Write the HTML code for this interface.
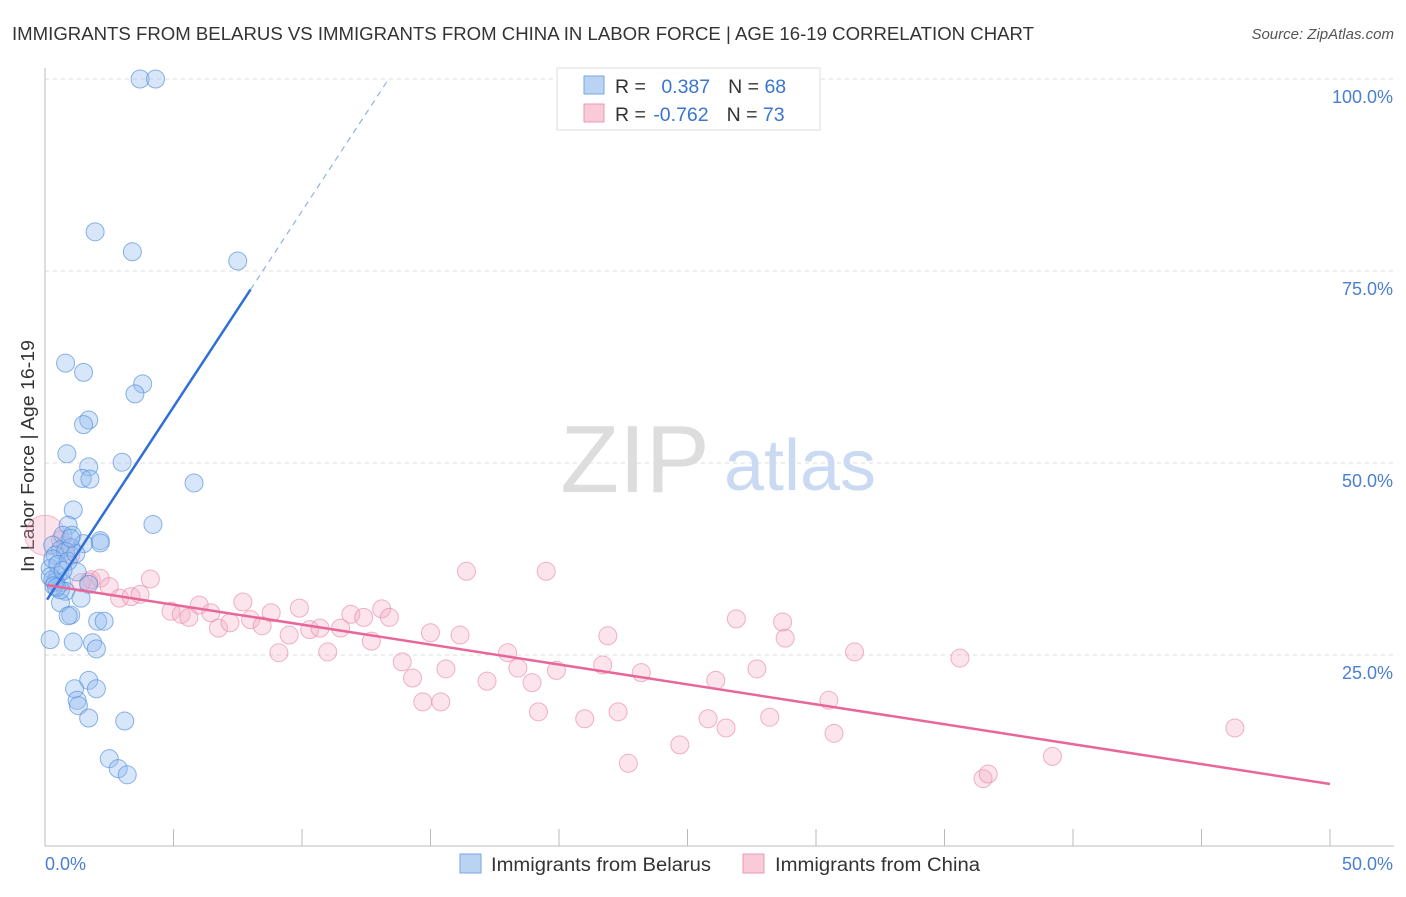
<!DOCTYPE html>
<html><head><meta charset="utf-8"><style>
body{margin:0;background:#fff;font-family:"Liberation Sans",sans-serif;}
svg text{font-family:"Liberation Sans",sans-serif;}
</style></head><body>
<svg width="1406" height="892">
<text x="12" y="40" font-size="18" fill="#333" textLength="1022" lengthAdjust="spacingAndGlyphs">IMMIGRANTS FROM BELARUS VS IMMIGRANTS FROM CHINA IN LABOR FORCE | AGE 16-19 CORRELATION CHART</text>
<text x="1394" y="39" font-size="15" fill="#555" text-anchor="end" font-style="italic">Source: ZipAtlas.com</text>
<g id="grid"></g>
<text x="635" y="492" font-size="96" fill="#ddd" font-family="Liberation Serif" text-anchor="middle">ZIP</text>
<text x="800" y="490" font-size="72" fill="#c9daf2" text-anchor="middle">atlas</text>
<line x1="45" y1="68" x2="45" y2="846" stroke="#bbb"/>
<line x1="45" y1="846" x2="1394" y2="846" stroke="#bbb"/>
<g id="xt"></g>
<g id="yl"></g>
<text x="45" y="870" font-size="18" fill="#4a7fd0">0.0%</text>
<text x="1393" y="870" font-size="18" fill="#4a7fd0" text-anchor="end">50.0%</text>
<text transform="translate(34,456) rotate(-90)" font-size="18" fill="#333" text-anchor="middle" textLength="232" lengthAdjust="spacingAndGlyphs">In Labor Force | Age 16-19</text>
<g id="pts"></g>
<g id="lines"></g>
<g>
<rect x="557" y="68" width="263" height="62" fill="#fff" stroke="#ddd"/>
<rect x="584" y="76" width="20" height="18" fill="#b9d3f3" stroke="#7aa6e0"/>
<text x="615" y="93" font-size="19.5" fill="#333">R = <tspan fill="#3a75d0" dx="10">0.387</tspan><tspan dx="18" fill="#333">N = </tspan><tspan fill="#3a75d0">68</tspan></text>
<rect x="584" y="104" width="20" height="18" fill="#f9cad8" stroke="#eb9ab3"/>
<text x="615" y="121" font-size="19.5" fill="#333">R = <tspan fill="#3a75d0" dx="2">-0.762</tspan><tspan dx="18" fill="#333">N = </tspan><tspan fill="#3a75d0">73</tspan></text>
</g>
<g>
<rect x="460" y="854" width="21" height="19" fill="#b9d3f3" stroke="#7aa6e0"/>
<text x="491" y="871" font-size="19" fill="#333" textLength="220" lengthAdjust="spacingAndGlyphs">Immigrants from Belarus</text>
<rect x="743" y="854" width="21" height="19" fill="#f9cad8" stroke="#eb9ab3"/>
<text x="775" y="871" font-size="19" fill="#333" textLength="205" lengthAdjust="spacingAndGlyphs">Immigrants from China</text>
</g>
</svg>
<script>
const yTicks=[25,50,75,100];
const yTickLabels=["25.0%","50.0%","75.0%","100.0%"];
const xTicks=[5,10,15,20,25,30,35,40,45,50];
const belX=[3.7,4.3,1.95,3.4,7.5,0.8,1.5,3.8,3.5,1.7,1.5,0.85,1.7,3.0,1.45,1.75,5.8,1.1,4.2,0.9,0.7,1.05,2.15,2.15,1.5,0.3,0.6,1.0,0.4,0.8,0.2,0.5,1.25,0.3,0.65,1.7,0.8,1.4,0.6,1.0,0.9,2.05,2.3,0.2,1.1,1.85,2.0,1.7,1.15,2.0,1.25,1.3,1.7,3.1,2.5,2.85,3.2,0.6,0.4,0.3,0.5,0.2,0.9,1.2,0.35,0.7,1.0,0.45];
const belY=[100,100,80.1,77.5,76.3,63,61.8,60.3,59,55.6,55,51.2,49.5,50.1,48,47.9,47.4,43.9,42,41.9,40.6,40.6,39.9,39.6,39.5,39.3,38.7,39,38,38.5,36.3,35.4,35.8,34.8,34.4,34.2,33.3,32.4,31.8,30.2,30.1,29.4,29.4,27,26.7,26.6,25.8,21.7,20.6,20.6,19.1,18.4,16.8,16.4,11.5,10.2,9.4,33.5,34.5,37.5,36.8,35.2,37.2,38.2,34.0,36.0,40.2,33.8];
const chX=[0.6,0.8,1.0,1.8,2.15,1.7,1.4,2.5,2.9,3.35,3.7,4.1,4.9,5.3,5.6,6.0,6.45,6.75,7.2,7.7,8.0,8.45,8.8,9.1,9.5,9.9,10.3,10.7,11.0,11.5,11.9,12.4,12.7,13.1,13.4,13.9,14.3,14.7,15.0,15.4,15.6,16.15,16.4,17.2,18.0,18.4,18.95,19.2,19.5,19.9,21.0,21.7,21.9,22.3,22.7,23.2,24.7,25.8,26.1,26.5,26.9,27.7,28.2,28.7,28.8,30.5,30.7,31.5,35.6,36.5,36.7,39.2,46.3];
const chY=[40,39.3,38,34.8,35,34.5,34.4,33.9,32.4,32.6,32.9,34.9,30.7,30.3,29.9,31.5,30.5,28.5,29.2,31.9,29.6,28.8,30.5,25.3,27.6,31.1,28.3,28.5,25.4,28.5,30.3,29.9,26.8,31,29.9,24.1,22,18.9,27.9,18.9,23.2,27.6,35.9,21.6,25.3,23.3,21.4,17.6,35.9,23,16.7,23.7,27.5,17.6,10.9,22.7,13.3,16.7,21.7,15.5,29.7,23.2,16.9,29.3,27.2,19.1,14.8,25.4,24.6,8.9,9.5,11.8,15.5];
const ns="http://www.w3.org/2000/svg";
const X=v=>45+v/50*1285, Y=v=>847-v/100*768;
function mk(t,a,p){const e=document.createElementNS(ns,t);for(const k in a)e.setAttribute(k,a[k]);p.appendChild(e);return e;}
const grid=document.getElementById('grid'),yl=document.getElementById('yl'),xt=document.getElementById('xt');
yTicks.forEach((t,i)=>{
 const l=mk('line',{x1:45,x2:1394,y1:Y(t),y2:Y(t),stroke:'#ddd','stroke-dasharray':'4,4'},grid);
 
 
 const tx=mk('text',{x:1393,y:Y(t)+24,'font-size':18,fill:'#4a7fd0','text-anchor':'end'},yl);
 tx.textContent=yTickLabels[i];
 
 
});
xTicks.forEach(t=>{
 const l=mk('line',{x1:X(t),x2:X(t),y1:829,y2:846,stroke:'#bbb'},xt);
 
 
});
const pts=document.getElementById('pts');
const big=mk('circle',{cx:X(0),cy:Y(40.6),r:20,fill:'rgba(244,160,188,0.3)',stroke:'rgba(232,130,165,0.5)'},pts);


chX.forEach((x,i)=>{
 const c=mk('circle',{cx:X(x),cy:Y(chY[i]),r:9,fill:'rgba(244,170,195,0.32)','stroke':'rgba(232,130,165,0.6)'},pts);
 
 
});
belX.forEach((x,i)=>{
 const c=mk('circle',{cx:X(x),cy:Y(belY[i]),r:9,fill:'rgba(150,190,240,0.38)','stroke':'rgba(80,140,220,0.65)'},pts);
 
 
});
const lines=document.getElementById('lines');
const bA=31.8,bB=5.1;
let l1=mk('line',{x1:X(0.08),y1:Y(bA+bB*0.08),x2:X(8),y2:Y(bA+bB*8),stroke:'#2f6fd6','stroke-width':2.5},lines);


let l2=mk('line',{x1:X(8),y1:Y(bA+bB*8),x2:X((100-bA)/bB),y2:Y(100),stroke:'#8fb2e6','stroke-width':1.2,'stroke-dasharray':'6,5'},lines);


let l3=mk('line',{x1:X(0.08),y1:Y(34.1),x2:X(50),y2:Y(8.2),stroke:'#e8679a','stroke-width':2.5},lines);


</script>
</body></html>
